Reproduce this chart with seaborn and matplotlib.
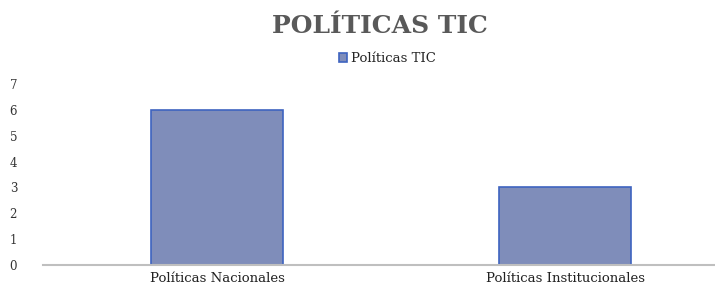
import matplotlib.pyplot as plt
import seaborn as sns
import pandas as pd

categorias = ["Políticas Nacionales", "Políticas Institucionales"]
valores = [6, 3]
serie = "Políticas TIC"

df = pd.DataFrame({"categoria": categorias, "valor": valores, "serie": [serie] * len(categorias)})

sns.set_style("white")
plt.rcParams['font.family'] = ['DejaVu Serif', 'DejaVu Sans']

fig = plt.figure(figsize=(7.15, 2.9), dpi=100)
ax = fig.add_axes([43 / 715, 25 / 290, 672 / 715, 181 / 290])

sns.barplot(data=df, x="categoria", y="valor", hue="serie", palette=["#7f8dba"],
            saturation=1, width=0.38, edgecolor="#3e63c0", linewidth=1.2, ax=ax)

ax.set_xlim(-0.5, 1.431)
ax.set_ylim(0, 7)
ax.set_yticks(range(0, 8))
ax.set_xlabel("")
ax.set_ylabel("")
for s in ["top", "right", "left"]:
    ax.spines[s].set_visible(False)
ax.spines["bottom"].set_color("#bfbfbf")
ax.spines["bottom"].set_linewidth(1.5)
ax.tick_params(axis="y", length=0, pad=24, labelsize=8.5, labelcolor="#333333")
ax.tick_params(axis="x", length=0, pad=5, labelsize=9.5, labelcolor="#222222")
for lbl in ax.get_yticklabels():
    lbl.set_horizontalalignment("left")

ax.legend(loc="center", bbox_to_anchor=(0.512, 1.14), frameon=False,
          fontsize=9.5, handlelength=0.6, handleheight=0.6, handletextpad=0.3)

fig.text(0.532, 0.912, "POLÍTICAS TIC", ha="center", va="center", fontsize=18,
         fontweight="bold", color="#595959", family=['DejaVu Serif', 'DejaVu Sans'])

fig.savefig("out.png", dpi=100)
